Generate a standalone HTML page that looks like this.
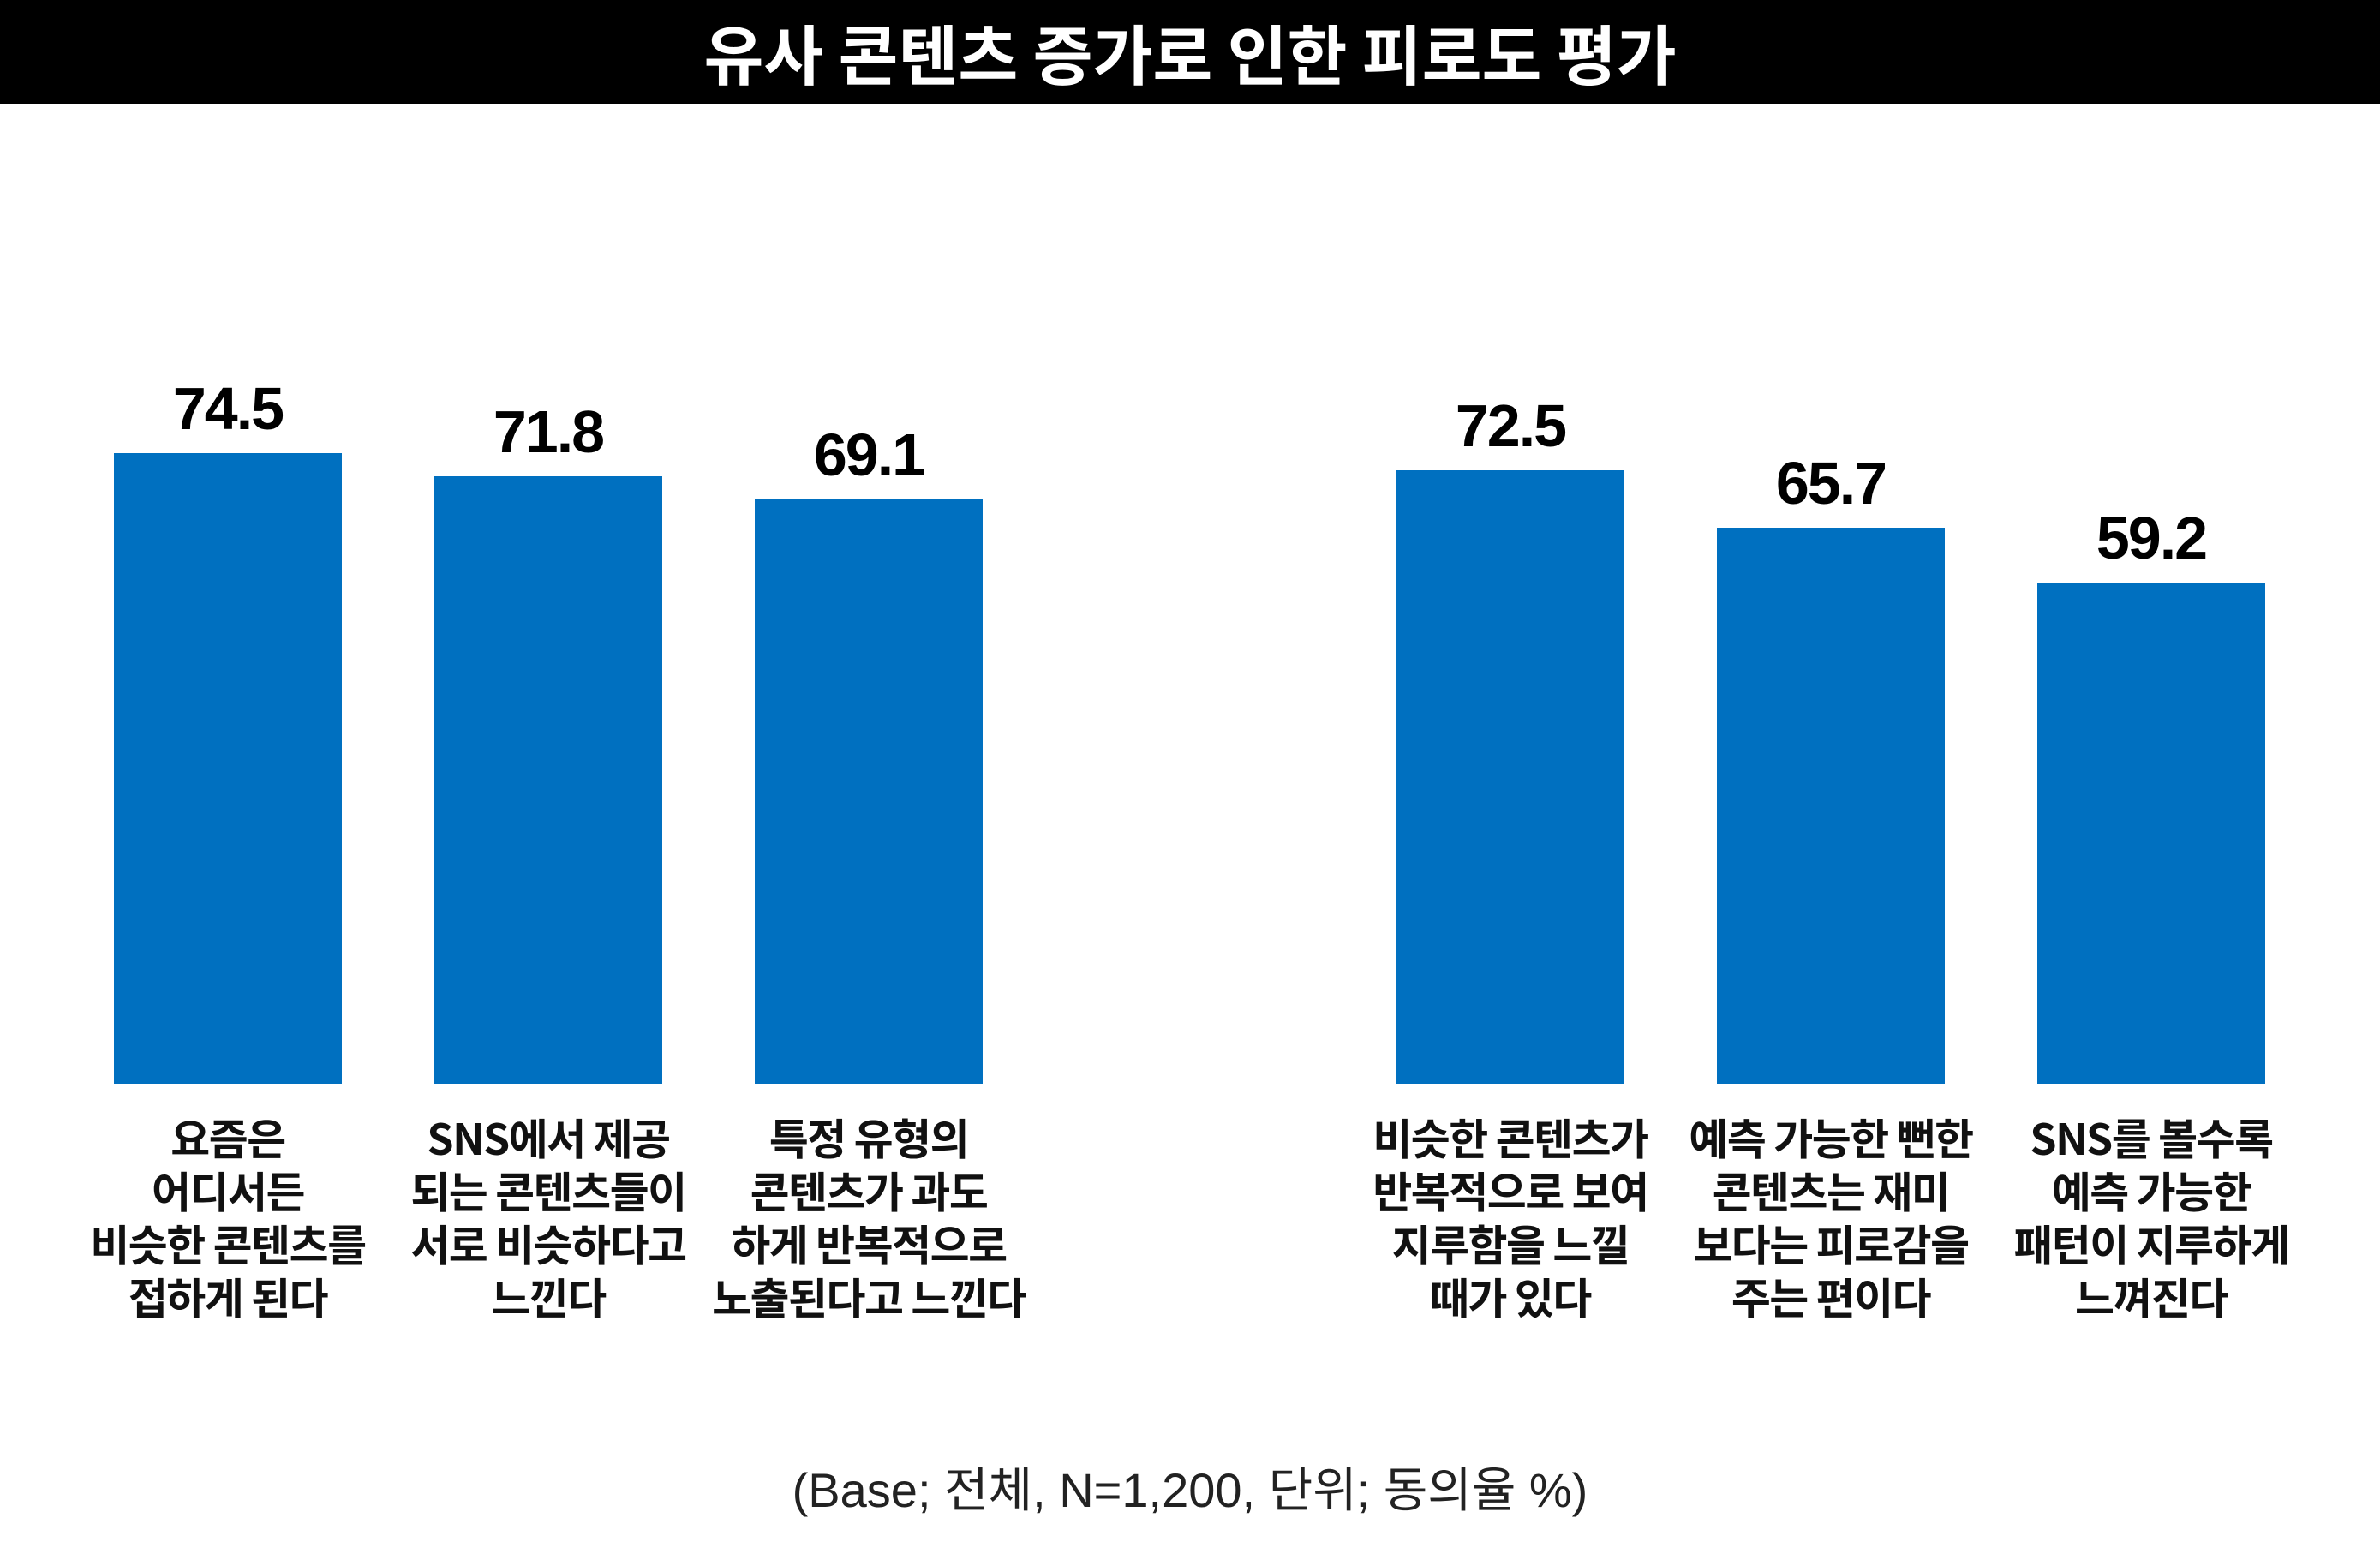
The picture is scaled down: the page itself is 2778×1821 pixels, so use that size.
<!DOCTYPE html>
<html><head><meta charset="utf-8"><style>
html,body{margin:0;padding:0;width:2778px;height:1821px;background:#fff;overflow:hidden;font-family:"Liberation Sans","Noto Sans CJK KR",sans-serif;}
.title{position:absolute;left:0;top:0;width:2778px;height:121px;background:#000;color:#fff;font-weight:bold;font-size:76px;text-align:center;line-height:121px;font-family:"Noto Sans CJK KR",sans-serif;}
.bar{position:absolute;background:#0070C0;width:266px;bottom:556px;}
.val{position:absolute;width:400px;text-align:center;font-weight:bold;font-size:70px;color:#000;line-height:1;font-family:"Liberation Sans",sans-serif;letter-spacing:-2px;}
.lab{position:absolute;top:1296px;width:480px;text-align:center;font-size:50px;font-weight:bold;line-height:62px;color:#111;font-family:"Noto Sans CJK KR",sans-serif;letter-spacing:-1.5px;}
.foot{position:absolute;top:1695px;left:0;width:2778px;text-align:center;font-size:56px;color:#222;font-family:"Liberation Sans","Noto Sans CJK KR",sans-serif;}
</style></head><body>
<div class="title">유사 콘텐츠 증가로 인한 피로도 평가</div>

<div class="bar" style="left:133px;top:529px;"></div>
<div class="bar" style="left:507px;top:556px;"></div>
<div class="bar" style="left:881px;top:583px;"></div>
<div class="bar" style="left:1630px;top:549px;"></div>
<div class="bar" style="left:2004px;top:616px;"></div>
<div class="bar" style="left:2378px;top:680px;"></div>

<div class="val" style="left:66px;top:442px;">74.5</div>
<div class="val" style="left:440px;top:469px;">71.8</div>
<div class="val" style="left:814px;top:496px;">69.1</div>
<div class="val" style="left:1563px;top:462px;">72.5</div>
<div class="val" style="left:1937px;top:529px;">65.7</div>
<div class="val" style="left:2311px;top:593px;">59.2</div>

<div class="lab" style="left:26px;">요즘은<br>어디서든<br>비슷한 콘텐츠를<br>접하게 된다</div>
<div class="lab" style="left:400px;">SNS에서 제공<br>되는 콘텐츠들이<br>서로 비슷하다고<br>느낀다</div>
<div class="lab" style="left:774px;">특정 유형의<br>콘텐츠가 과도<br>하게 반복적으로<br>노출된다고 느낀다</div>
<div class="lab" style="left:1523px;">비슷한 콘텐츠가<br>반복적으로 보여<br>지루함을 느낄<br>때가 있다</div>
<div class="lab" style="left:1897px;">예측 가능한 뻔한<br>콘텐츠는 재미<br>보다는 피로감을<br>주는 편이다</div>
<div class="lab" style="left:2271px;">SNS를 볼수록<br>예측 가능한<br>패턴이 지루하게<br>느껴진다</div>

<div class="foot">(Base; 전체, N=1,200, 단위; 동의율 %)</div>
</body></html>
